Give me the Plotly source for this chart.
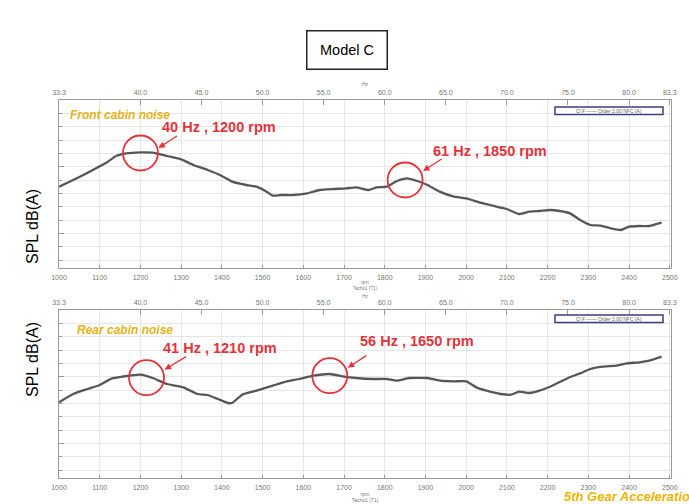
import plotly.graph_objects as go

# ---------------- data ----------------
rpm_front = [1000, 1035, 1075, 1120, 1140, 1165, 1200, 1230, 1265, 1300,
             1330, 1365, 1395, 1425, 1460, 1485, 1510, 1525, 1545, 1575,
             1610, 1640, 1675, 1705, 1730, 1760, 1780, 1805, 1830, 1855,
             1880, 1905, 1935, 1970, 2000, 2035, 2065, 2100, 2130, 2155,
             2180, 2205, 2230, 2255, 2280, 2305, 2330, 2355, 2380, 2400,
             2425, 2450, 2480]
spl_front = [77.0, 78.0, 79.25, 80.75, 81.6, 82.0, 82.15, 82.1, 81.6, 81.1,
             80.25, 79.5, 78.75, 77.75, 77.25, 77.0, 76.25, 75.65, 75.75, 75.75,
             76.0, 76.5, 76.65, 76.75, 76.9, 76.5, 76.9, 77.0, 77.85, 78.25,
             77.85, 77.25, 76.25, 75.5, 75.25, 74.6, 74.15, 73.65, 72.9, 73.25,
             73.35, 73.5, 73.35, 73.0, 72.0, 71.25, 71.15, 70.75, 70.5, 71.0,
             71.1, 71.1, 71.6]

rpm_rear = [1000, 1035, 1070, 1100, 1130, 1155, 1200, 1230, 1265, 1305,
            1340, 1365, 1390, 1415, 1425, 1450, 1485, 1525, 1560, 1590,
            1625, 1665, 1700, 1730, 1770, 1805, 1830, 1860, 1905, 1935,
            1970, 2000, 2025, 2050, 2085, 2110, 2130, 2155, 2180, 2215,
            2250, 2280, 2305, 2335, 2370, 2395, 2425, 2450, 2480]
spl_rear = [76.15, 77.4, 78.15, 78.75, 79.75, 80.0, 80.3, 79.8, 78.9, 78.4,
            77.4, 77.25, 76.65, 76.05, 76.05, 77.3, 77.9, 78.65, 79.3, 79.65,
            80.15, 80.4, 80.0, 79.8, 79.65, 79.65, 79.4, 79.8, 79.8, 79.4,
            79.3, 79.3, 78.4, 77.9, 77.4, 77.3, 77.75, 77.55, 77.9, 78.75,
            79.8, 80.5, 81.15, 81.5, 81.65, 82.0, 82.15, 82.4, 83.0]

hz_ticks = [33.33, 40, 45, 50, 55, 60, 65, 70, 75, 80, 83.33]
hz_labels = ["33.3", "40.0", "45.0", "50.0", "55.0", "60.0", "65.0",
             "70.0", "75.0", "80.0", "83.3"]

front_peak_rpm = [1200, 1850]
front_peak_spl = [82.05, 78.0]
front_peak_text = ["40 Hz , 1200 rpm", "61 Hz , 1850 rpm"]
rear_peak_rpm = [1215, 1665]
rear_peak_spl = [79.85, 80.15]
rear_peak_text = ["41 Hz , 1210 rpm", "56 Hz , 1650 rpm"]

panel_names = ["Front cabin noise", "Rear cabin noise"]
legend_text = "Cl F \u2014\u2014 Order 2.00 NFC (A)"
title_text = "Model C"
footer_text = "5th Gear Acceleration"
ylabel = "SPL dB(A)"

# ---------------- layout geometry ----------------
W, H = 689, 504
ML, MR, MT, MB = 59, 18, 100, 26
PW = W - ML - MR
PH = H - MT - MB
X_RANGE = [1000, 2503]
Y_RANGE = [64.8, 90]

def px_x(p):
    return (p - ML) / PW

def px_y(p):
    return (H - MB - p) / PH

top_dom = [px_y(268), 1.0]
bot_dom = [0.0, px_y(310)]

RED = "#e2333b"
YEL = "#e6b21a"
GRID = "#e6e6e6"
FRAME = "#9a9a9a"
TICKF = dict(family="Liberation Sans, Arial", size=7, color="#777777")

fig = go.Figure()

panels = [
    ("x", "y", "x3", rpm_front, spl_front, front_peak_rpm, front_peak_spl, front_peak_text,
     [(79, 26), (85, 29)], [(18, 5, 20, -13), (18, 9, 20, -13)]),
    ("x2", "y2", "x4", rpm_rear, spl_rear, rear_peak_rpm, rear_peak_spl, rear_peak_text,
     [(73, 30), (87, 35)], [(18, 8, 23, -14), (18, 8, 20, -13)]),
]

for xa, ya, xt, rpm, spl, prpm, pspl, ptxt, toff, aoff in panels:
    fig.add_trace(go.Scatter(x=rpm, y=spl, xaxis=xa, yaxis=ya, mode="lines",
                             line=dict(color="#575757", width=2.3, shape="spline", smoothing=0.5),
                             showlegend=False, hoverinfo="skip"))
    # invisible trace so the top (Hz) axis is drawn
    fig.add_trace(go.Scatter(x=[rpm[0]], y=[spl[0]], xaxis=xt, yaxis=ya, mode="lines",
                             opacity=0, showlegend=False, hoverinfo="skip"))
    for i in range(len(prpm)):
        fig.add_shape(type="circle", xref=xa, yref=ya, xsizemode="pixel", ysizemode="pixel",
                      xanchor=prpm[i], yanchor=pspl[i], x0=-17.5, x1=17.5, y0=-17.5, y1=17.5,
                      line=dict(color=RED, width=1.8))
        fig.add_annotation(xref=xa, yref=ya, x=prpm[i], y=pspl[i],
                           xshift=toff[i][0], yshift=toff[i][1], text="<b>%s</b>" % ptxt[i],
                           showarrow=False, font=dict(family="Liberation Sans, Arial", size=14.5, color=RED))
        hx, hy, ax, ay = aoff[i]
        fig.add_annotation(xref=xa, yref=ya, x=prpm[i], y=pspl[i], xshift=hx, yshift=hy,
                           text="", showarrow=True, ax=ax, ay=ay, arrowhead=2, arrowsize=1,
                           arrowwidth=1.3, arrowcolor=RED)

axis_x_common = dict(range=X_RANGE, showline=True, linecolor=FRAME, linewidth=1.2, mirror=True,
                     showgrid=True, gridcolor=GRID, gridwidth=1, dtick=100, tick0=1000,
                     ticks="inside", ticklen=3, tickcolor=FRAME, tickfont=TICKF, zeroline=False,
                     ticklabelstandoff=2, fixedrange=True, automargin=False)
axis_top_common = dict(range=X_RANGE, side="top", tickvals=[h * 30 for h in hz_ticks],
                       ticktext=hz_labels, ticks="inside", ticklen=5, tickcolor=FRAME,
                       tickfont=TICKF, showgrid=False, showline=False, zeroline=False,
                       ticklabelstandoff=3, automargin=False)
axis_y_common = dict(range=Y_RANGE, showline=True, linecolor=FRAME, linewidth=1.2, mirror=True,
                     showticklabels=False, ticks="inside", ticklen=5, tickcolor=FRAME,
                     dtick=10, tick0=0, showgrid=True, gridcolor=GRID, zeroline=False,
                     automargin=False,
                     minor=dict(dtick=2, ticks="inside", ticklen=2.5, tickcolor=FRAME,
                                showgrid=True, gridcolor=GRID))
small_title = dict(family="Liberation Sans, Arial", size=5, color="#777777")
tiny_title = dict(family="Liberation Sans, Arial", size=4.5, color="#777777")

fig.update_layout(
    width=W, height=H, margin=dict(l=ML, r=MR, t=MT, b=MB, autoexpand=False),
    paper_bgcolor="white", plot_bgcolor="white", showlegend=False,
    xaxis=dict(**axis_x_common, anchor="y",
               title=dict(text="rpm<br>Tacho1 (T1)", font=tiny_title, standoff=0)),
    xaxis2=dict(**axis_x_common, anchor="y2",
                title=dict(text="rpm<br>Tacho1 (T1)", font=small_title, standoff=1)),
    xaxis3=dict(**axis_top_common, overlaying="x", anchor="y",
                title=dict(text="Hz", font=small_title, standoff=1)),
    xaxis4=dict(**axis_top_common, overlaying="x2", anchor="y2",
                title=dict(text="Hz", font=tiny_title, standoff=0)),
    yaxis=dict(**axis_y_common, domain=top_dom, anchor="x"),
    yaxis2=dict(**axis_y_common, domain=bot_dom, anchor="x2"),
)

# panel names, legend boxes, y labels
name_px = [(68, 115), (75, 330)]
legend_px = [107, 315]
ylab_px = [187, 399]
for k in range(2):
    fig.add_annotation(xref="paper", yref="paper",
                       x=px_x(name_px[k][0]), y=px_y(name_px[k][1]), xanchor="left", yanchor="middle",
                       text="<b><i>%s</i></b>" % panel_names[k], showarrow=False,
                       font=dict(family="Liberation Sans, Arial", size=12, color=YEL))
    ytop = legend_px[k]
    fig.add_shape(type="rect", xref="paper", yref="paper",
                  x0=px_x(555), x1=px_x(663), y0=px_y(ytop + 7.5), y1=px_y(ytop),
                  line=dict(color="#3d3d85", width=1.5), fillcolor="white")
    fig.add_annotation(xref="paper", yref="paper", x=px_x(609), y=px_y(ytop + 3.75),
                       xanchor="center", yanchor="middle", text=legend_text, showarrow=False,
                       font=dict(family="Liberation Sans, Arial", size=5, color="#666666"))
    fig.add_annotation(xref="paper", yref="paper", x=px_x(22), y=px_y(ylab_px[k]),
                       text=ylabel, textangle=-90, showarrow=False,
                       font=dict(family="Liberation Sans, Arial", size=16, color="black"))

# title box
fig.add_annotation(xref="paper", yref="paper", x=px_x(346.5), y=px_y(29.5),
                   text=title_text, showarrow=False, width=79, height=37,
                   bordercolor="#222222", borderwidth=1.5, borderpad=0, bgcolor="white",
                   font=dict(family="Liberation Sans, Arial", size=14.5, color="black"))

# footer
fig.add_annotation(xref="paper", yref="paper", x=px_x(562), y=px_y(496), xanchor="left",
                   yanchor="middle", text="<b><i>%s</i></b>" % footer_text, showarrow=False,
                   font=dict(family="Liberation Sans, Arial", size=13, color="#f0b400"))

fig.write_html("out.html")
